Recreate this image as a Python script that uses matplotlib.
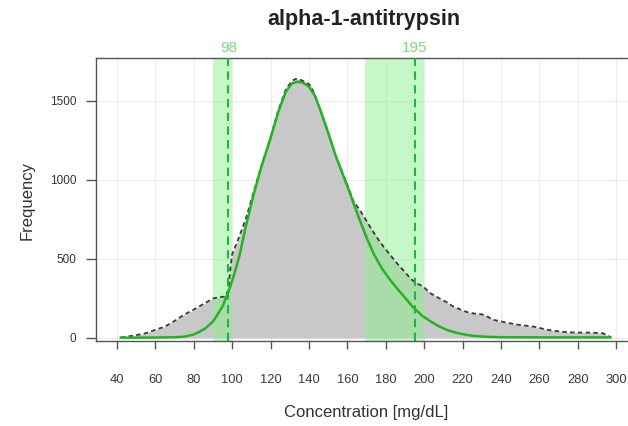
import matplotlib
matplotlib.use("Agg")
import matplotlib.pyplot as plt
import matplotlib.transforms as mtransforms

plt.rcParams['font.family'] = ['Liberation Sans', 'DejaVu Sans']

# ---- data ----
hist_x = [42, 45, 50, 55, 60, 65, 70, 75, 80, 85, 90, 93, 96, 98, 99, 100, 103, 107, 111,
          115, 120, 124, 128, 131, 133, 136, 139, 141, 143, 146, 150, 154, 160, 163, 167,
          170, 173, 176, 179, 182, 186, 189, 193, 196, 198, 200, 203, 206, 208, 212, 215,
          219, 222, 226, 230, 233, 236, 240, 243, 247, 250, 255, 258, 262, 265, 270, 275,
          280, 285, 290, 293, 295, 297]
hist_y = [3, 8, 18, 30, 52, 72, 108, 148, 180, 215, 250, 258, 262, 300, 430, 530, 620, 750, 915,
          1080, 1270, 1440, 1575, 1625, 1640, 1632, 1615, 1595, 1540, 1440, 1300, 1150, 970, 870, 800,
          740, 680, 625, 575, 530, 470, 430, 375, 345, 335, 320, 285, 265, 250, 225, 200,
          180, 165, 155, 150, 135, 115, 105, 97, 88, 82, 75, 70, 58, 50, 42, 36,
          34, 34, 32, 30, 20, 5]

fit_x = [42, 50, 60, 70, 75, 80, 83, 86, 88, 90, 92, 95, 98, 101, 104, 107, 111, 115, 120,
         124, 128, 131, 134, 137, 140, 143, 146, 150, 154, 160, 163, 166, 170, 174, 178, 182,
         186, 190, 194, 199, 204, 208, 212, 217, 222, 226, 232, 240, 260, 280, 297]
fit_y = [2, 2, 3, 5, 8, 22, 40, 60, 82, 105, 140, 200, 290, 400, 530, 700, 900, 1075, 1265,
         1430, 1560, 1610, 1622, 1615, 1590, 1535, 1440, 1300, 1150, 960, 860, 760, 635, 525, 440, 372,
         312, 255, 198, 140, 100, 72, 50, 32, 20, 13, 8, 5, 4, 4, 4]

ref_low, ref_high = 98, 195
band_low = (90, 100)
band_high = (169, 200)

xticks = list(range(40, 301, 20))
yticks = [0, 500, 1000, 1500]

# ---- figure ----
W, H = 628, 426
fig = plt.figure(figsize=(W / 100, H / 100), dpi=100)
ax = fig.add_axes([96 / W, 1 - 341 / H, (636 - 96) / W, (341 - 58) / H])
ax.set_xlim(29.1, 310.3)
ax.set_ylim(-19, 1772)

for x in xticks:
    ax.axvline(x, color='#ececec', lw=0.8, zorder=0)
for y in yticks:
    ax.axhline(y, color='#ececec', lw=0.8, zorder=0)

ax.fill_between(hist_x, 0, hist_y, color='#c8c8c8', lw=0, zorder=1)
ax.axvspan(*band_low, color='#8ef08e', alpha=0.5, lw=0, zorder=2)
ax.axvspan(*band_high, color='#8ef08e', alpha=0.5, lw=0, zorder=2)
ax.plot(hist_x, hist_y, color='#3a3a3a', lw=1.3, dashes=(2.5, 1.8), zorder=3)
ax.plot(fit_x, fit_y, color='#22b422', lw=1.8, zorder=4)
for r in (ref_low, ref_high):
    ax.axvline(r, color='#22b43c', lw=1.5, dashes=(4, 2.6), zorder=5)

trans = mtransforms.blended_transform_factory(ax.transData, ax.transAxes)
for r in (ref_low, ref_high):
    ax.text(r, 1.036, str(r), transform=trans, ha='center', va='center',
            color='#7fd67f', fontsize=11)

for s in ax.spines.values():
    s.set_color('#555555')
    s.set_linewidth(1.0)

ax.set_xticks(xticks)
ax.set_yticks(yticks)
ax.tick_params(axis='x', length=5.8, width=1, color='#555555', pad=18,
               labelsize=9.3, labelcolor='#3a3a3a')
ax.tick_params(axis='y', length=7, width=1, color='#555555', pad=7,
               labelsize=8.5, labelcolor='#333333')

fig.text(364 / W, 1 - 20 / H, 'alpha-1-antitrypsin', ha='center', va='center',
         fontsize=15.5, fontweight='bold', color='#222222')
fig.text(366 / W, 1 - 412 / H, 'Concentration [mg/dL]', ha='center', va='center',
         fontsize=12, color='#333333')
fig.text(27 / W, 1 - 200 / H, 'Frequency', ha='center', va='center', rotation=90,
         fontsize=12, color='#333333')

fig.savefig('out.png', dpi=100)
